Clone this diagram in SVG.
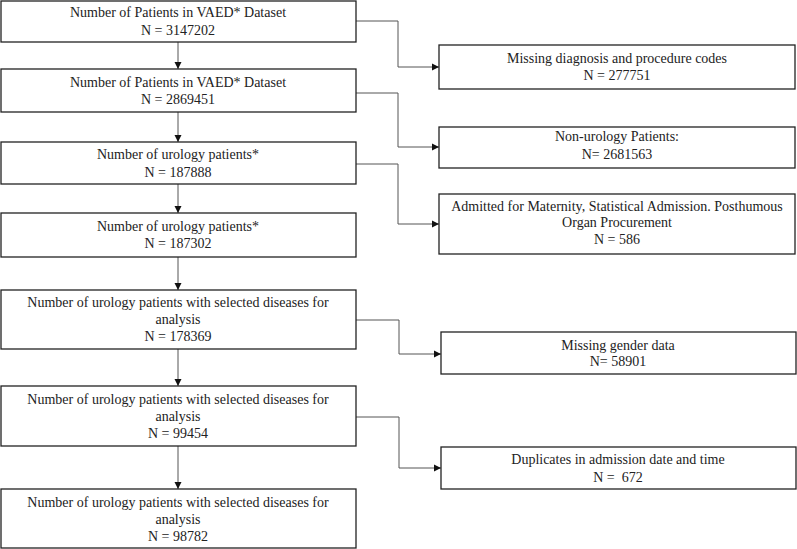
<svg xmlns="http://www.w3.org/2000/svg" width="797" height="549" viewBox="0 0 797 549">
<style>
.box{fill:#fff;stroke:#222;stroke-width:1.3}
text{font-family:"Liberation Serif","Times New Roman",serif;font-size:14px;fill:#222;text-anchor:middle}
.c{fill:none;stroke:#555;stroke-width:1}
</style>
<defs>
<marker id="ah" markerWidth="8" markerHeight="8" refX="7" refY="4" orient="auto" markerUnits="userSpaceOnUse">
<path d="M0,0.5 L7,4 L0,7.5 Z" fill="#111"/>
</marker>
</defs>
<rect width="797" height="549" fill="#fff"/>
<g id="connectors">
<path class="c" d="M178,42 V69" marker-end="url(#ah)"/>
<path class="c" d="M178,112 V142" marker-end="url(#ah)"/>
<path class="c" d="M178,184 V213" marker-end="url(#ah)"/>
<path class="c" d="M178,257 V290" marker-end="url(#ah)"/>
<path class="c" d="M178,349 V386" marker-end="url(#ah)"/>
<path class="c" d="M178,446 V489" marker-end="url(#ah)"/>
<path class="c" d="M356,21 H398 V67 H439" marker-end="url(#ah)"/>
<path class="c" d="M356,93 H398 V147 H439" marker-end="url(#ah)"/>
<path class="c" d="M356,164 H398 V224 H439" marker-end="url(#ah)"/>
<path class="c" d="M356,320 H399 V354 H441" marker-end="url(#ah)"/>
<path class="c" d="M356,417 H399 V468 H441" marker-end="url(#ah)"/>
</g>
<g id="n1"><rect class="box" x="1" y="1" width="355" height="41"/>
<text x="178" y="17">Number of Patients in VAED* Dataset</text><text x="178" y="35">N = 3147202</text></g>
<g id="n2"><rect class="box" x="1" y="69" width="355" height="43"/>
<text x="178" y="87">Number of Patients in VAED* Dataset</text><text x="178" y="104">N = 2869451</text></g>
<g id="n3"><rect class="box" x="1" y="142" width="355" height="42"/>
<text x="178" y="159">Number of urology patients*</text><text x="178" y="177">N = 187888</text></g>
<g id="n4"><rect class="box" x="1" y="213" width="355" height="44"/>
<text x="178" y="231">Number of urology patients*</text><text x="178" y="248">N = 187302</text></g>
<g id="n5"><rect class="box" x="1" y="290" width="355" height="59"/>
<text x="178" y="307">Number of urology patients with selected diseases for</text><text x="178" y="324">analysis</text><text x="178" y="341">N = 178369</text></g>
<g id="n6"><rect class="box" x="1" y="386" width="355" height="60"/>
<text x="178" y="404">Number of urology patients with selected diseases for</text><text x="178" y="421">analysis</text><text x="178" y="438">N = 99454</text></g>
<g id="n7"><rect class="box" x="1" y="489" width="355" height="59"/>
<text x="178" y="507">Number of urology patients with selected diseases for</text><text x="178" y="524">analysis</text><text x="178" y="541">N = 98782</text></g>
<g id="e1"><rect class="box" x="439" y="45" width="356" height="44"/>
<text x="617" y="63">Missing diagnosis and procedure codes</text><text x="617" y="80">N = 277751</text></g>
<g id="e2"><rect class="box" x="439" y="127" width="356" height="41"/>
<text x="617" y="141">Non-urology Patients:</text><text x="617" y="159">N= 2681563</text></g>
<g id="e3"><rect class="box" x="439" y="194" width="356" height="60"/>
<text x="617" y="211">Admitted for Maternity, Statistical Admission. Posthumous</text><text x="617" y="227">Organ Procurement</text><text x="617" y="244">N = 586</text></g>
<g id="e4"><rect class="box" x="441" y="332" width="355" height="42"/>
<text x="618" y="350">Missing gender data</text><text x="618" y="366">N= 58901</text></g>
<g id="e5"><rect class="box" x="441" y="447" width="355" height="42"/>
<text x="618" y="464">Duplicates in admission date and time</text><text x="618" y="482">N =&#160; 672</text></g>
</svg>
